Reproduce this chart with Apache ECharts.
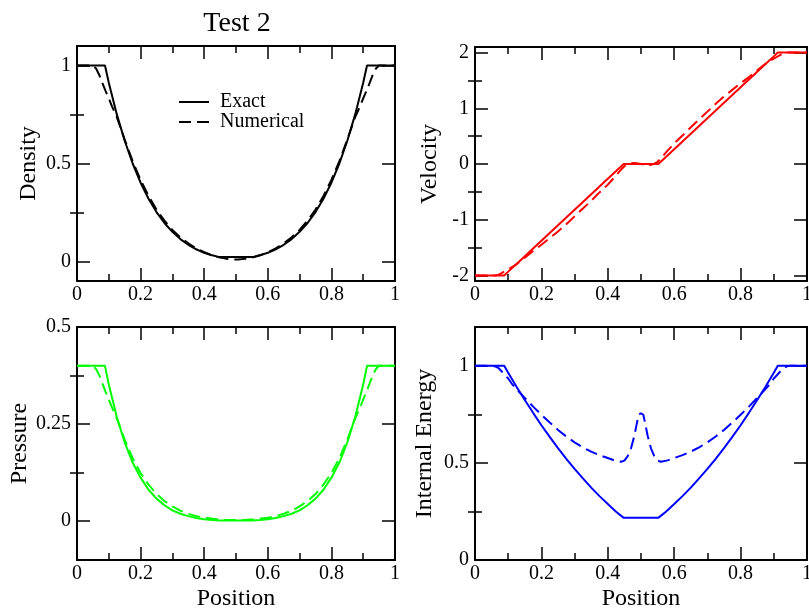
<!DOCTYPE html>
<html lang="en">
<head>
<meta charset="UTF-8">
<title>Test 2</title>
<script src="https://cdn.jsdelivr.net/npm/echarts@6/dist/echarts.min.js"></script>
<style>
  html, body { margin: 0; padding: 0; background: #fff; }
  #main { width: 809px; height: 610px; }
</style>
</head>
<body>
<div id="main"></div>
<script>
// exact solution
var xExact = [0, 0.088, 0.1, 0.125, 0.15, 0.175, 0.2, 0.225, 0.25, 0.275, 0.3, 0.325, 0.35, 0.375, 0.4, 0.425, 0.448,
              0.552, 0.575, 0.6, 0.625, 0.65, 0.675, 0.7, 0.725, 0.75, 0.775, 0.8, 0.825, 0.85, 0.875, 0.9, 0.912, 1];
var densExact = [1, 1, 0.912, 0.752, 0.616, 0.500, 0.402, 0.320, 0.252, 0.196, 0.151, 0.114, 0.085, 0.062, 0.044, 0.031, 0.022,
                 0.022, 0.031, 0.044, 0.062, 0.085, 0.114, 0.151, 0.196, 0.252, 0.320, 0.402, 0.500, 0.616, 0.752, 0.912, 1, 1];
var velExact = [-2, -2, -1.932, -1.793, -1.654, -1.515, -1.376, -1.237, -1.098, -0.959, -0.821, -0.682, -0.543, -0.404, -0.265, -0.126, 0,
                0, 0.126, 0.265, 0.404, 0.543, 0.682, 0.821, 0.959, 1.098, 1.237, 1.376, 1.515, 1.654, 1.793, 1.932, 2, 2];
var presExact = [0.4, 0.4, 0.352, 0.269, 0.203, 0.151, 0.112, 0.081, 0.058, 0.041, 0.028, 0.019, 0.013, 0.008, 0.005, 0.003, 0.002,
                 0.002, 0.003, 0.005, 0.008, 0.013, 0.019, 0.028, 0.041, 0.058, 0.081, 0.112, 0.151, 0.203, 0.269, 0.352, 0.4, 0.4];
var enerExact = [1, 1, 0.964, 0.892, 0.824, 0.758, 0.694, 0.634, 0.576, 0.521, 0.469, 0.420, 0.373, 0.329, 0.288, 0.249, 0.217,
                 0.217, 0.249, 0.288, 0.329, 0.373, 0.420, 0.469, 0.521, 0.576, 0.634, 0.694, 0.758, 0.824, 0.892, 0.964, 1, 1];

// numerical solution
var xNum = [0, 0.05, 0.06, 0.07, 0.08, 0.09, 0.1, 0.11, 0.125, 0.15, 0.175, 0.2, 0.225, 0.25, 0.275, 0.3, 0.325, 0.35, 0.375, 0.4,
            0.42, 0.44, 0.45, 0.46, 0.47, 0.48, 0.487, 0.493, 0.5, 0.507, 0.513, 0.52, 0.53, 0.54, 0.55, 0.56, 0.58,
            0.6, 0.625, 0.65, 0.675, 0.7, 0.725, 0.75, 0.775, 0.8, 0.825, 0.85, 0.875, 0.89, 0.9, 0.91, 0.92, 0.93, 0.94, 0.95, 1];
var densNum = [1, 1, 0.985, 0.952, 0.91, 0.87, 0.833, 0.792, 0.738, 0.622, 0.512, 0.416, 0.334, 0.265, 0.208, 0.161, 0.123, 0.092, 0.067, 0.047,
               0.034, 0.024, 0.020, 0.017, 0.014, 0.012, 0.011, 0.010, 0.010, 0.010, 0.011, 0.012, 0.014, 0.017, 0.020, 0.024, 0.034,
               0.047, 0.067, 0.092, 0.123, 0.161, 0.208, 0.265, 0.334, 0.416, 0.512, 0.622, 0.738, 0.792, 0.833, 0.87, 0.91, 0.952, 0.985, 1, 1];
var velNum = [-2, -2, -2, -1.99, -1.96, -1.925, -1.89, -1.855, -1.8, -1.68, -1.56, -1.45, -1.33, -1.21, -1.08, -0.94, -0.8, -0.66, -0.51, -0.37,
              -0.24, -0.1, -0.04, -0.005, 0.012, 0.02, 0.015, 0.008, 0, -0.008, -0.015, -0.02, -0.012, 0.005, 0.04, 0.1, 0.24,
              0.37, 0.51, 0.66, 0.8, 0.94, 1.08, 1.21, 1.33, 1.45, 1.56, 1.68, 1.8, 1.855, 1.89, 1.925, 1.96, 1.99, 2, 2, 2];
var presNum = [0.4, 0.4, 0.392, 0.376, 0.354, 0.333, 0.313, 0.293, 0.265, 0.210, 0.162, 0.124, 0.094, 0.070, 0.052, 0.038, 0.027, 0.019, 0.013, 0.009,
               0.007, 0.005, 0.004, 0.004, 0.003, 0.003, 0.003, 0.003, 0.003, 0.003, 0.003, 0.003, 0.003, 0.004, 0.004, 0.005, 0.007,
               0.009, 0.013, 0.019, 0.027, 0.038, 0.052, 0.070, 0.094, 0.124, 0.162, 0.210, 0.265, 0.293, 0.313, 0.333, 0.354, 0.376, 0.392, 0.4, 0.4];
var enerNum = [1, 1, 0.998, 0.99, 0.972, 0.953, 0.935, 0.91, 0.88, 0.835, 0.79, 0.748, 0.708, 0.670, 0.636, 0.606, 0.580, 0.558, 0.540, 0.525,
               0.513, 0.506, 0.512, 0.535, 0.575, 0.64, 0.70, 0.748, 0.756, 0.748, 0.70, 0.64, 0.575, 0.535, 0.512, 0.506, 0.513,
               0.525, 0.540, 0.558, 0.580, 0.606, 0.636, 0.670, 0.708, 0.748, 0.79, 0.835, 0.88, 0.91, 0.935, 0.953, 0.972, 0.99, 0.998, 1, 1];

// axis ticks
var densTicks = [0, 0.5, 1], densMinor = [0.25, 0.75];
var velTicks = [-2, -1, 0, 1, 2], velMinor = [-1.5, -0.5, 0.5, 1.5];
var presTicks = [0, 0.25, 0.5], presMinor = [0.125, 0.375];
var enerTicks = [0, 0.5, 1], enerMinor = [0.25, 0.75];

var FONT = '"Liberation Serif", "DejaVu Serif", serif';
var chart = echarts.init(document.getElementById('main'));

function pairs(xs, ys) {
    var out = [];
    for (var i = 0; i < xs.length; i++) out.push([xs[i], ys[i]]);
    return out;
}

function makeX(gi, name) {
    var line = {show: true, onZero: false, lineStyle: {color: '#000', width: 2}};
    var tick = {show: true, inside: true, length: 13, lineStyle: {color: '#000', width: 1.5}};
    var minor = {show: true, splitNumber: 2, length: 7, lineStyle: {color: '#000', width: 1.5}};
    var bottom = {
        type: 'value', gridIndex: gi, position: 'bottom', min: 0, max: 1, interval: 0.2,
        axisLine: line, axisTick: tick, minorTick: minor, splitLine: {show: false},
        axisLabel: {color: '#000', fontFamily: FONT, fontSize: 20, margin: 4}
    };
    if (name) {
        bottom.name = name;
        bottom.nameLocation = 'middle';
        bottom.nameGap = 27;
        bottom.nameTextStyle = {color: '#000', fontFamily: FONT, fontSize: 24};
    }
    var top = {
        type: 'value', gridIndex: gi, position: 'top', min: 0, max: 1, interval: 0.2,
        axisLine: line, axisTick: tick, minorTick: minor, splitLine: {show: false},
        axisLabel: {show: false}
    };
    return [bottom, top];
}

function makeY(gi, min, max, major, minor, name, gap) {
    var line = {show: true, onZero: false, lineStyle: {color: '#000', width: 2}};
    var tickStyle = {color: '#000', width: 1.5};
    var axes = [];
    ['left', 'right'].forEach(function (pos) {
        var a = {
            type: 'value', gridIndex: gi, position: pos, min: min, max: max,
            axisLine: line, splitLine: {show: false},
            axisTick: {show: true, inside: true, length: 13, customValues: major, lineStyle: tickStyle},
            axisLabel: {show: false}
        };
        if (pos == 'left') {
            a.axisLabel = {show: true, customValues: major, color: '#000', fontFamily: FONT, fontSize: 20, margin: 6};
            a.name = name;
            a.nameLocation = 'middle';
            a.nameGap = gap;
            a.nameTextStyle = {color: '#000', fontFamily: FONT, fontSize: 24};
        }
        axes.push(a);
        axes.push({
            type: 'value', gridIndex: gi, position: pos, min: min, max: max,
            axisLine: {show: false}, splitLine: {show: false}, axisLabel: {show: false},
            axisTick: {show: true, inside: true, length: 7, customValues: minor, lineStyle: tickStyle}
        });
    });
    return axes;
}

function ser(gi, name, xs, ys, color, dashed) {
    return {
        name: name, type: 'line', xAxisIndex: gi * 2, yAxisIndex: gi * 4,
        data: pairs(xs, ys), symbol: 'none', showSymbol: false, silent: true, animation: false,
        lineStyle: {color: color, width: 2, type: dashed ? [12, 6] : 'solid'},
        itemStyle: {color: color}
    };
}

var option = {
    backgroundColor: '#fff',
    animation: false,
    graphic: [{
        type: 'text', x: 237, y: 24,
        style: {text: 'Test 2', fill: '#000', font: '28px ' + FONT, textAlign: 'center', textVerticalAlign: 'middle'}
    }],
    legend: {
        data: ['Exact', 'Numerical'], orient: 'vertical', left: 173, top: 87,
        itemWidth: 30, itemHeight: 10, itemGap: 0, selectedMode: false,
        itemStyle: {opacity: 0},
        textStyle: {color: '#000', fontFamily: FONT, fontSize: 20, lineHeight: 20, padding: [0, 0, 0, 6]}
    },
    grid: [
        {left: 77, top: 46, width: 318, height: 235, outerBoundsMode: 'none'},
        {left: 475, top: 47, width: 332, height: 234, outerBoundsMode: 'none'},
        {left: 77, top: 327, width: 318, height: 233, outerBoundsMode: 'none'},
        {left: 475, top: 327, width: 332, height: 233, outerBoundsMode: 'none'}
    ],
    xAxis: [].concat(makeX(0), makeX(1), makeX(2, 'Position'), makeX(3, 'Position')),
    yAxis: [].concat(
        makeY(0, -0.1, 1.1, densTicks, densMinor, 'Density', 36),
        makeY(1, -2.1, 2.1, velTicks, velMinor, 'Velocity', 33),
        makeY(2, -0.1, 0.5, presTicks, presMinor, 'Pressure', 42),
        makeY(3, 0, 1.2, enerTicks, enerMinor, 'Internal Energy', 38)
    ),
    series: [
        ser(0, 'Exact', xExact, densExact, '#000', false),
        ser(0, 'Numerical', xNum, densNum, '#000', true),
        ser(1, 'Velocity exact', xExact, velExact, '#ff0000', false),
        ser(1, 'Velocity numerical', xNum, velNum, '#ff0000', true),
        ser(2, 'Pressure exact', xExact, presExact, '#00ff00', false),
        ser(2, 'Pressure numerical', xNum, presNum, '#00ff00', true),
        ser(3, 'Energy exact', xExact, enerExact, '#0000ff', false),
        ser(3, 'Energy numerical', xNum, enerNum, '#0000ff', true)
    ]
};
chart.setOption(option);
</script>
</body>
</html>
